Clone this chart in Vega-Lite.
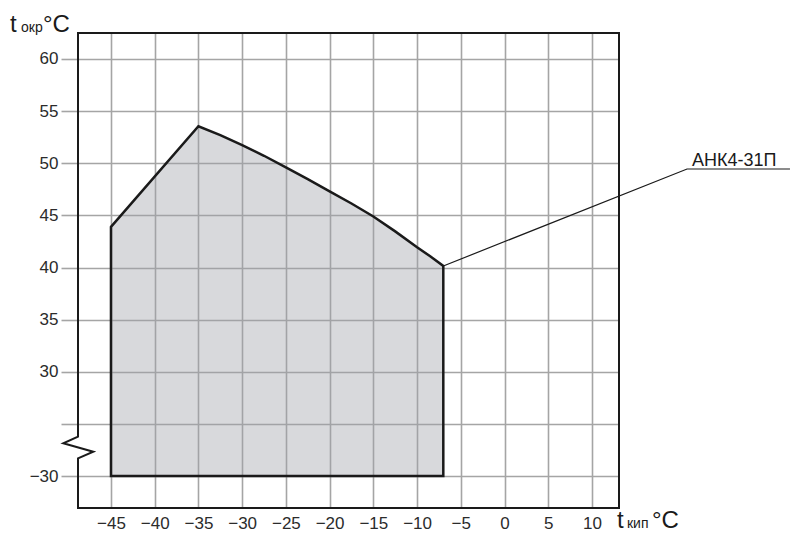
{
  "$schema": "https://vega.github.io/schema/vega-lite/v6.json",
  "width": 541,
  "height": 475,
  "autosize": {"type": "none"},
  "padding": {"left": 78, "top": 33, "right": 171, "bottom": 27},
  "background": "white",
  "config": {"view": {"stroke": null}, "font": "Liberation Sans"},
  "datasets": {
    "envelope": [
      {"x": -45, "y": 43.9},
      {"x": -35, "y": 53.55},
      {"x": -32.5, "y": 52.7},
      {"x": -30, "y": 51.75},
      {"x": -27.5, "y": 50.72},
      {"x": -25, "y": 49.6},
      {"x": -22.5, "y": 48.48},
      {"x": -20, "y": 47.3},
      {"x": -17.5, "y": 46.14},
      {"x": -15, "y": 44.9},
      {"x": -12.5, "y": 43.47},
      {"x": -10, "y": 41.95},
      {"x": -8.5, "y": 41.08},
      {"x": -7, "y": 40.15}
    ],
    "frame": [
      {"i": 1, "x": -48.77, "y": 62.49},
      {"i": 2, "x": 13.09, "y": 62.49},
      {"i": 3, "x": 13.09, "y": -33.07},
      {"i": 4, "x": -48.77, "y": -33.07},
      {"i": 5, "x": -48.77, "y": -11.3},
      {"i": 6, "x": -47.02, "y": -4.3},
      {"i": 7, "x": -50.45, "y": 4.6},
      {"i": 8, "x": -48.77, "y": 11.57},
      {"i": 9, "x": -48.77, "y": 62.49}
    ],
    "leader": [
      {"x": -7, "y": 40.15},
      {"x": 20.87, "y": 49.45},
      {"x": 32.64, "y": 49.45}
    ],
    "titlesBig": [
      {"x": -56.55, "y": 62.59, "text": "t"},
      {"x": -52.78, "y": 62.59, "text": "°C"},
      {"x": 12.86, "y": -34.99, "text": "t"},
      {"x": 16.86, "y": -34.99, "text": "°C"}
    ],
    "titlesSmall": [
      {"x": -55.29, "y": 62.59, "text": "окр"},
      {"x": 14.0, "y": -34.99, "text": "кип"}
    ],
    "series": [
      {"x": 21.44, "y": 49.74, "text": "АНК4-31П"}
    ]
  },
  "encoding": {
    "x": {
      "field": "x",
      "type": "quantitative",
      "scale": {"domain": [-48.77, 13.09], "nice": false, "zero": false},
      "axis": {
        "values": [-45, -40, -35, -30, -25, -20, -15, -10, -5, 0, 5, 10],
        "title": null,
        "grid": true,
        "gridColor": "#a5a5a5",
        "gridWidth": 1.6,
        "ticks": false,
        "domain": false,
        "labelFontSize": 17,
        "labelColor": "#2b2b2b",
        "labelPadding": 7,
        "labelOverlap": false,
        "labelFlush": false
      }
    },
    "y": {
      "field": "y",
      "type": "quantitative",
      "scale": {"domain": [-33.07, -30, 25, 62.49], "range": [475, 443, 391, 0], "nice": false, "zero": false},
      "axis": {
        "values": [60, 55, 50, 45, 40, 35, 30, 25, -30],
        "labelExpr": "datum.value == 25 ? '' : datum.label",
        "title": null,
        "grid": true,
        "gridColor": "#a5a5a5",
        "gridWidth": 1.6,
        "ticks": true,
        "tickSize": 17,
        "tickColor": "#a5a5a5",
        "tickWidth": 1.6,
        "domain": false,
        "labelFontSize": 17,
        "labelColor": "#2b2b2b",
        "labelPadding": 3,
        "labelOverlap": false,
        "labelFlush": false
      }
    }
  },
  "layer": [
    {
      "data": {"name": "envelope"},
      "mark": {"type": "area", "fill": "#9ea1a8", "fillOpacity": 0.4, "stroke": "#1a1a1a", "strokeOpacity": 1, "strokeWidth": 2.5, "strokeJoin": "miter"},
      "encoding": {"y2": {"datum": -30}}
    },
    {
      "data": {"name": "frame"},
      "mark": {"type": "line", "color": "#1a1a1a", "strokeWidth": 2, "strokeJoin": "miter", "strokeCap": "square"},
      "encoding": {"order": {"field": "i", "type": "quantitative"}}
    },
    {
      "data": {"name": "leader"},
      "mark": {"type": "line", "color": "#1a1a1a", "strokeWidth": 1.2},
      "encoding": {}
    },
    {
      "data": {"name": "titlesBig"},
      "mark": {"type": "text", "align": "left", "baseline": "alphabetic", "fontSize": 24, "color": "#1a1a1a"},
      "encoding": {"text": {"field": "text", "type": "nominal"}}
    },
    {
      "data": {"name": "titlesSmall"},
      "mark": {"type": "text", "align": "left", "baseline": "alphabetic", "fontSize": 14, "color": "#1a1a1a"},
      "encoding": {"text": {"field": "text", "type": "nominal"}}
    },
    {
      "data": {"name": "series"},
      "mark": {"type": "text", "align": "left", "baseline": "alphabetic", "fontSize": 18, "color": "#1a1a1a"},
      "encoding": {"text": {"field": "text", "type": "nominal"}}
    }
  ]
}
